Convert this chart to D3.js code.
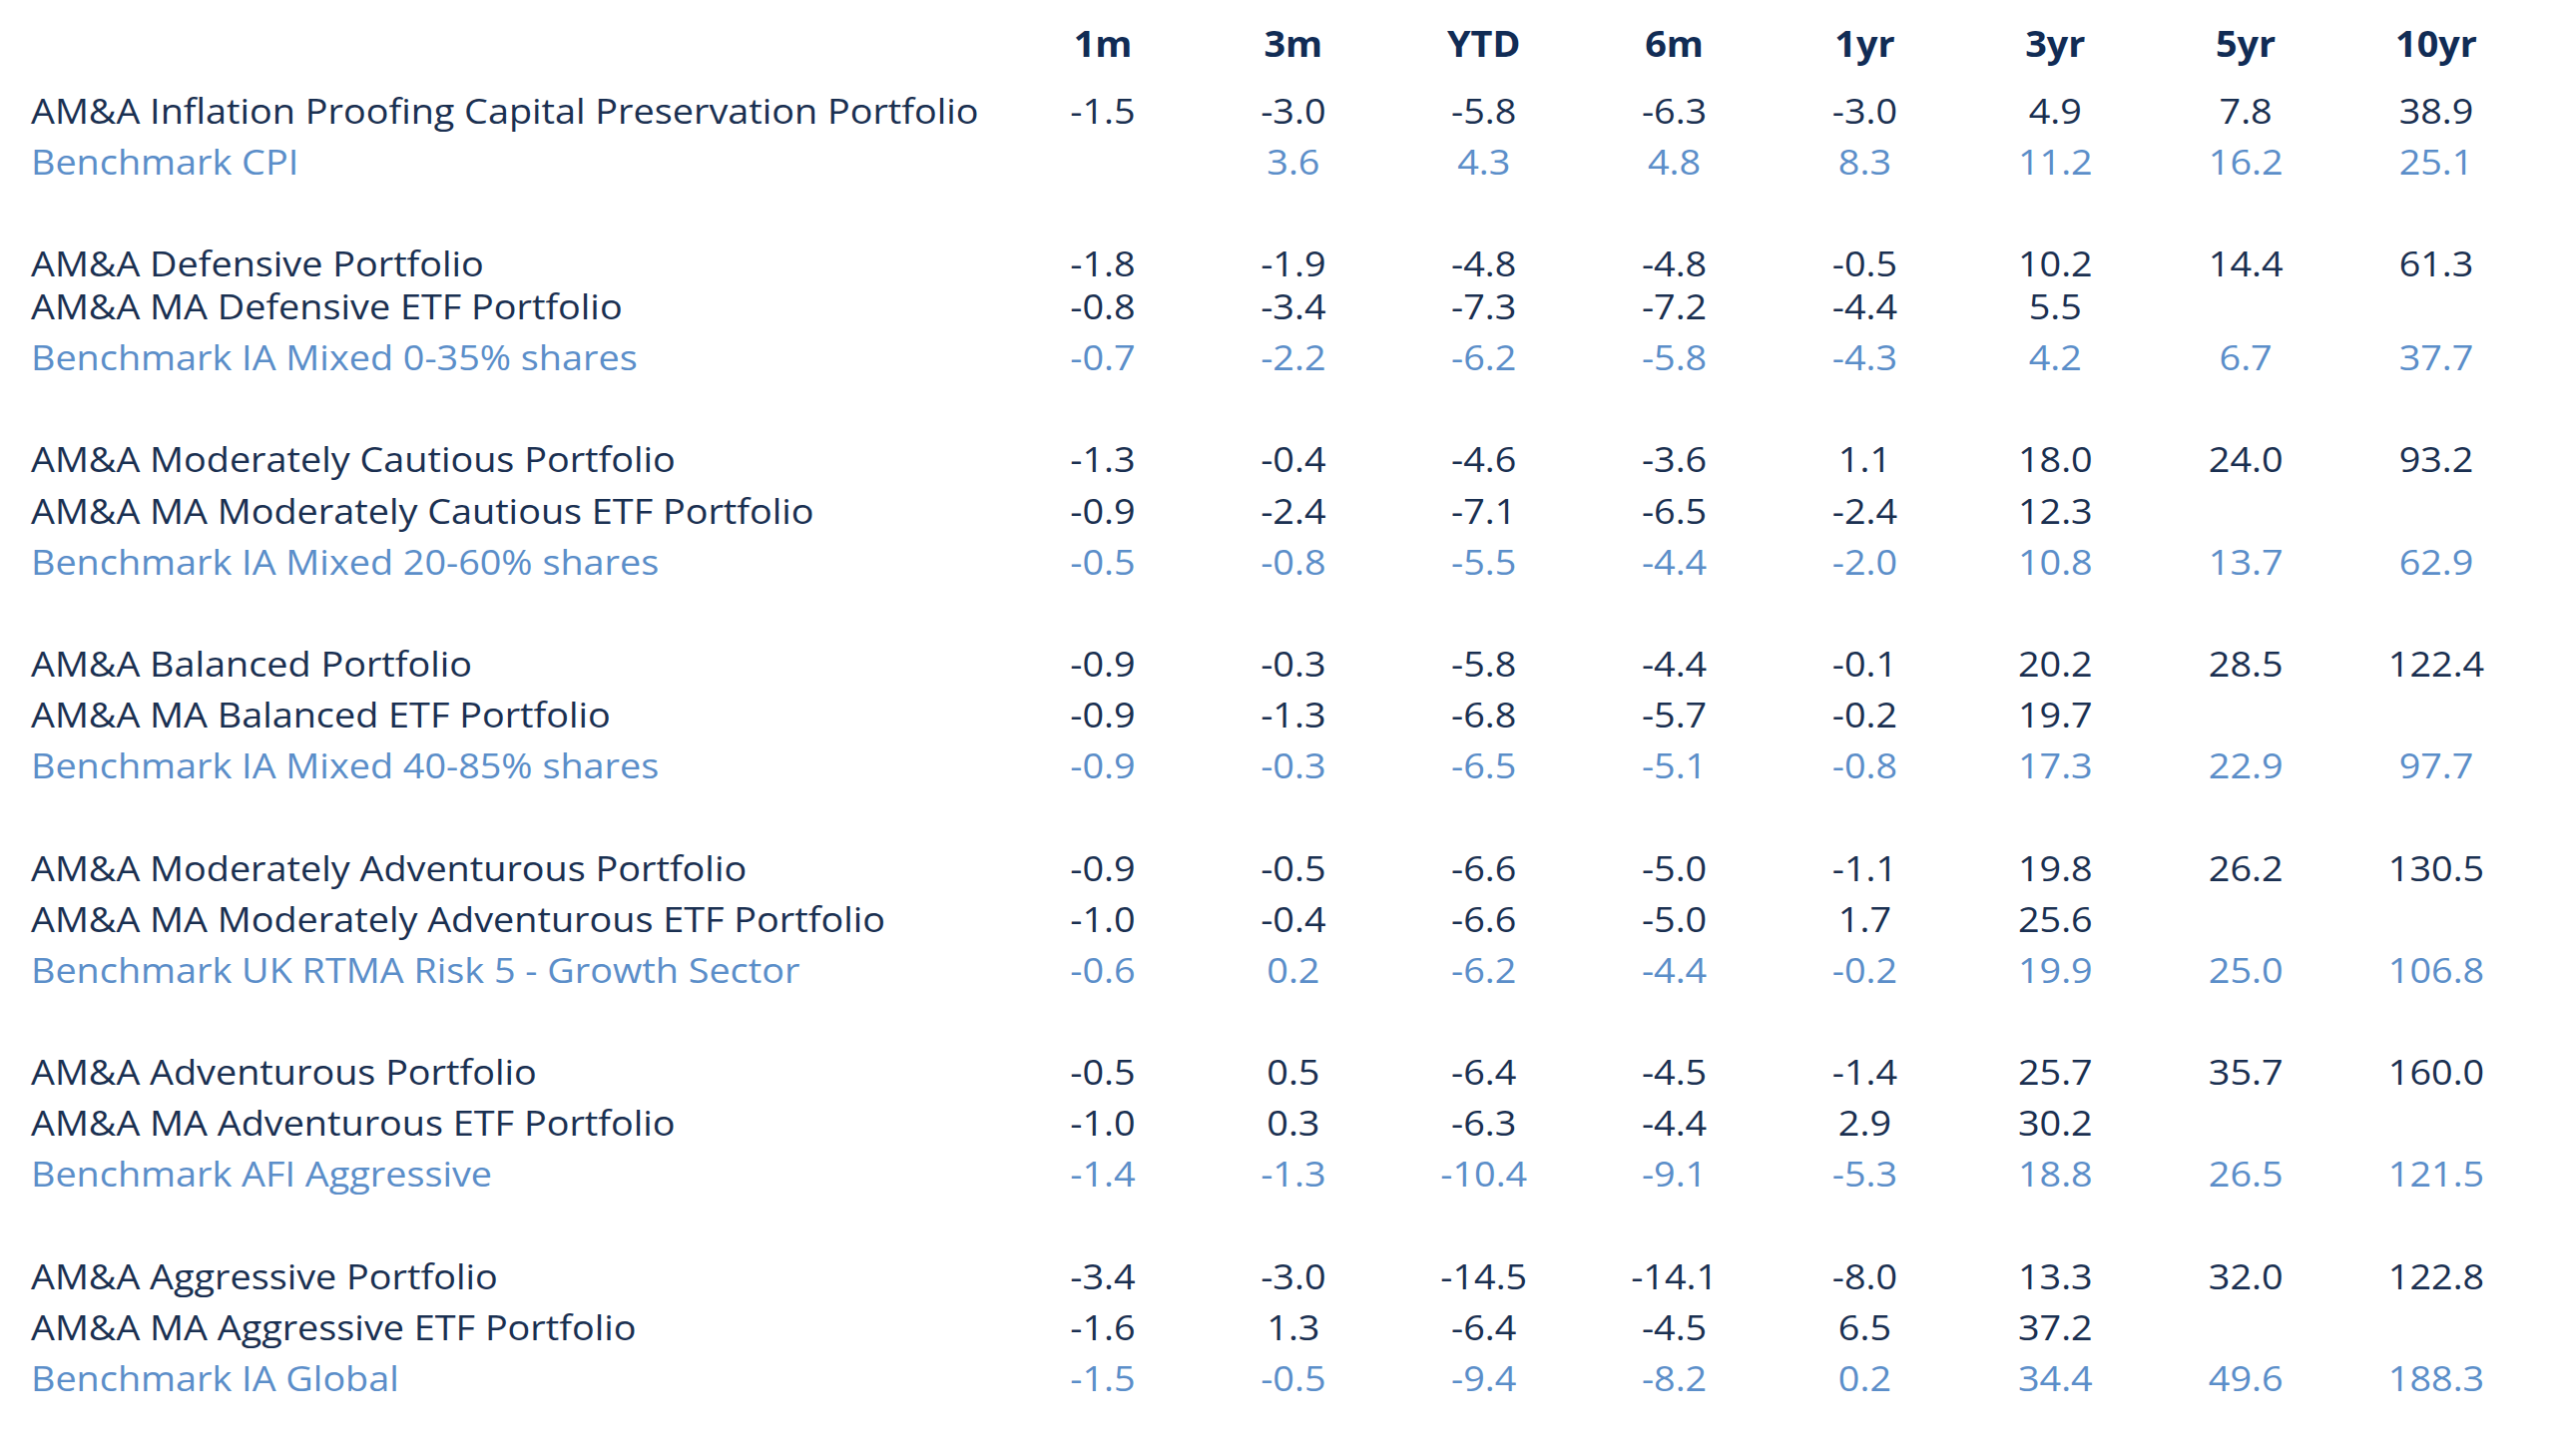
<!DOCTYPE html>
<html>
<head>
<meta charset="utf-8">
<script src="https://cdn.jsdelivr.net/npm/d3@7"></script>
<style>
  body { margin: 0; background: #fff; }
  text { font-family: "Open Sans", sans-serif; }
</style>
</head>
<body>
<div id="chart"></div>
<script>
const columns = ['1m', '3m', 'YTD', '6m', '1yr', '3yr', '5yr', '10yr'];

const labels = [
  'AM&A Inflation Proofing Capital Preservation Portfolio',
  'Benchmark CPI',
  'AM&A Defensive Portfolio',
  'AM&A MA Defensive ETF Portfolio',
  'Benchmark IA Mixed 0-35% shares',
  'AM&A Moderately Cautious Portfolio',
  'AM&A MA Moderately Cautious ETF Portfolio',
  'Benchmark IA Mixed 20-60% shares',
  'AM&A Balanced Portfolio',
  'AM&A MA Balanced ETF Portfolio',
  'Benchmark IA Mixed 40-85% shares',
  'AM&A Moderately Adventurous Portfolio',
  'AM&A MA Moderately Adventurous ETF Portfolio',
  'Benchmark UK RTMA Risk 5 - Growth Sector',
  'AM&A Adventurous Portfolio',
  'AM&A MA Adventurous ETF Portfolio',
  'Benchmark AFI Aggressive',
  'AM&A Aggressive Portfolio',
  'AM&A MA Aggressive ETF Portfolio',
  'Benchmark IA Global'
];

// which block each row belongs to
const rowGroup = [0, 0, 1, 1, 1, 2, 2, 2, 3, 3, 3, 4, 4, 4, 5, 5, 5, 6, 6, 6];

const benchmark = [false, true, false, false, true, false, false, true, false, false, true,
  false, false, true, false, false, true, false, false, true];

const rowValues = [
  [-1.5, -3.0, -5.8, -6.3, -3.0, 4.9, 7.8, 38.9],
  [null, 3.6, 4.3, 4.8, 8.3, 11.2, 16.2, 25.1],
  [-1.8, -1.9, -4.8, -4.8, -0.5, 10.2, 14.4, 61.3],
  [-0.8, -3.4, -7.3, -7.2, -4.4, 5.5, null, null],
  [-0.7, -2.2, -6.2, -5.8, -4.3, 4.2, 6.7, 37.7],
  [-1.3, -0.4, -4.6, -3.6, 1.1, 18.0, 24.0, 93.2],
  [-0.9, -2.4, -7.1, -6.5, -2.4, 12.3, null, null],
  [-0.5, -0.8, -5.5, -4.4, -2.0, 10.8, 13.7, 62.9],
  [-0.9, -0.3, -5.8, -4.4, -0.1, 20.2, 28.5, 122.4],
  [-0.9, -1.3, -6.8, -5.7, -0.2, 19.7, null, null],
  [-0.9, -0.3, -6.5, -5.1, -0.8, 17.3, 22.9, 97.7],
  [-0.9, -0.5, -6.6, -5.0, -1.1, 19.8, 26.2, 130.5],
  [-1.0, -0.4, -6.6, -5.0, 1.7, 25.6, null, null],
  [-0.6, 0.2, -6.2, -4.4, -0.2, 19.9, 25.0, 106.8],
  [-0.5, 0.5, -6.4, -4.5, -1.4, 25.7, 35.7, 160.0],
  [-1.0, 0.3, -6.3, -4.4, 2.9, 30.2, null, null],
  [-1.4, -1.3, -10.4, -9.1, -5.3, 18.8, 26.5, 121.5],
  [-3.4, -3.0, -14.5, -14.1, -8.0, 13.3, 32.0, 122.8],
  [-1.6, 1.3, -6.4, -4.5, 6.5, 37.2, null, null],
  [-1.5, -0.5, -9.4, -8.2, 0.2, 34.4, 49.6, 188.3]
];

const width = 2560;
const height = 1459;

const dark = '#1a3051';
const head = '#112c55';
const light = '#5b8ec9';

// the source type is a touch wider than Open Sans
const stretch = 1.08;

const svg = d3.select('#chart')
  .append('svg')
  .attr('width', width)
  .attr('height', height);

// columns
const x = d3.scalePoint()
  .domain(columns)
  .range([1105, 2441]);

// line slots: one empty line between blocks
const rows = labels.map((label, i) => ({
  label,
  slot: i + rowGroup[i],
  bench: benchmark[i],
  values: rowValues[i]
}));

const y = d3.scaleLinear()
  .domain([0, 3, 4, 25])
  .range([124, 277, 320, 1394]);

const fmt = v => v.toFixed(1);

// header
svg.append('g')
  .selectAll('text')
  .data(columns)
  .join('text')
  .attr('transform', d => `translate(${x(d)},57) scale(${stretch},1)`)
  .attr('text-anchor', 'middle')
  .style('font-size', '35px')
  .style('font-weight', 700)
  .style('fill', head)
  .text(d => d);

const row = svg.append('g')
  .selectAll('g')
  .data(rows)
  .join('g')
  .attr('transform', d => `translate(0,${y(d.slot)})`)
  .style('fill', d => d.bench ? light : dark)
  .style('font-size', '35px');

row.append('text')
  .attr('transform', `translate(31,0) scale(${stretch},1)`)
  .text(d => d.label);

row.selectAll('.val')
  .data(d => d.values.map((v, j) => ({ v, col: columns[j] })).filter(c => c.v !== null))
  .join('text')
  .attr('class', 'val')
  .attr('transform', d => `translate(${x(d.col)},0) scale(${stretch},1)`)
  .attr('text-anchor', 'middle')
  .text(d => fmt(d.v));
</script>
</body>
</html>
